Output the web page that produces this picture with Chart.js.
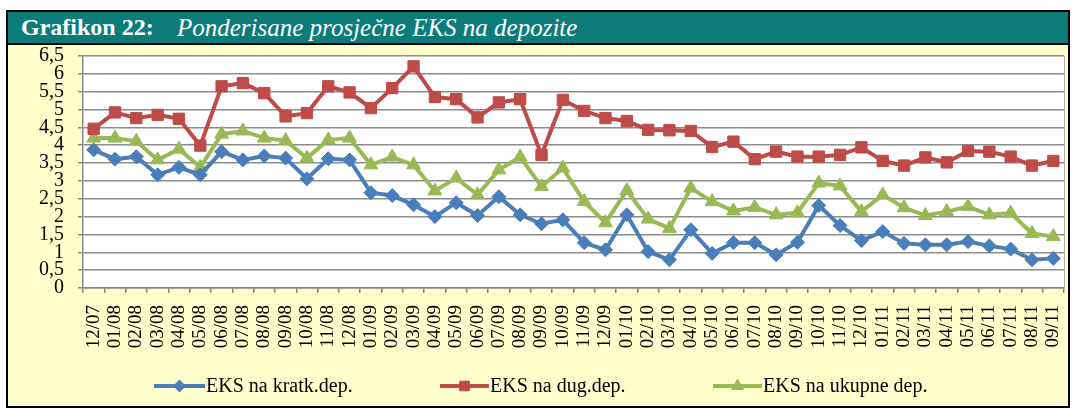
<!DOCTYPE html>
<html>
<head>
<meta charset="utf-8">
<script src="https://cdn.jsdelivr.net/npm/chart.js@4.4.1/dist/chart.umd.min.js"></script>
<style>
  html, body { margin: 0; padding: 0; background: #ffffff; }
  body { width: 1073px; height: 408px; position: relative; overflow: hidden; font-family: "Liberation Serif", "Times New Roman", serif; }
  #frame { position: absolute; left: 6px; top: 10px; width: 1060px; height: 394px; border: 2px solid #000; background: #FFFFCC; }
  #head { position: absolute; left: 0; top: 0; width: 1060px; height: 31px; background: #0C7B79; border-bottom: 2px solid #000; }
  #t1 { position: absolute; left: 13px; top: 2px; color: #fff; font-weight: bold; font-size: 24px; white-space: nowrap; }
  #t2 { position: absolute; left: 169px; top: 2px; color: #fff; font-style: italic; font-size: 25px; white-space: nowrap; }
  #c { position: absolute; left: 0; top: 0; }
</style>
</head>
<body>
<div id="frame"><div id="head"><span id="t1">Grafikon 22:</span><span id="t2">Ponderisane prosječne EKS na depozite</span></div></div>
<canvas id="c" width="1073" height="408"></canvas>
<script>
const categories = ['12/07','01/08','02/08','03/08','04/08','05/08','06/08','07/08','08/08','09/08','10/08','11/08','12/08',
  '01/09','02/09','03/09','04/09','05/09','06/09','07/09','08/09','09/09','10/09','11/09','12/09',
  '01/10','02/10','03/10','04/10','05/10','06/10','07/10','08/10','09/10','10/10','11/10','12/10',
  '01/11','02/11','03/11','04/11','05/11','06/11','07/11','08/11','09/11'];

const ksKratk = [3.87,3.61,3.68,3.17,3.38,3.17,3.82,3.59,3.70,
  3.64,3.06,3.62,3.59,2.67,2.59,2.33,2.00,2.39,2.03,
  2.56,2.05,1.80,1.91,1.27,1.07,2.05,1.02,0.79,
  1.63,0.97,1.27,1.27,0.93,1.28,2.31,1.75,1.33,
  1.58,1.25,1.21,1.21,1.30,1.18,1.09,0.79,0.83];

const ksDug = [4.46,4.92,4.76,4.85,4.74,3.99,5.65,5.74,5.46,
  4.81,4.90,5.65,5.48,5.04,5.60,6.21,5.35,5.29,4.78,
  5.20,5.29,3.73,5.27,4.96,4.76,4.68,4.43,4.42,
  4.40,3.95,4.10,3.61,3.82,3.68,3.68,3.73,3.94,
  3.56,3.43,3.66,3.52,3.84,3.82,3.68,3.43,3.56];

const ksUkupne = [4.20,4.20,4.11,3.59,3.89,3.38,4.31,4.40,4.20,
  4.13,3.64,4.15,4.20,3.45,3.67,3.45,2.72,3.08,2.61,
  3.31,3.67,2.84,3.36,2.42,1.83,2.73,1.93,1.67,
  2.80,2.42,2.16,2.26,2.05,2.11,2.94,2.86,2.14,
  2.61,2.25,2.03,2.14,2.28,2.05,2.10,1.53,1.44];

const seriesNames = ['EKS na kratk.dep.', 'EKS na dug.dep.', 'EKS na ukupne dep.'];
const yTickLabels = ['0','0,5','1','1,5','2','2,5','3','3,5','4','4,5','5','5,5','6','6,5'];

const FONT = '"Liberation Serif", "Times New Roman", serif';

const plotBg = {
  id: 'plotBg',
  beforeDraw(chart) {
    const {ctx, chartArea: a} = chart;
    ctx.save();
    ctx.fillStyle = '#ffffff';
    ctx.fillRect(a.left, a.top, a.right - a.left, a.bottom - a.top);
    ctx.strokeStyle = '#B0B0B0';
    ctx.lineWidth = 1;
    ctx.beginPath(); ctx.moveTo(a.right + 0.5, a.top); ctx.lineTo(a.right + 0.5, a.bottom); ctx.stroke();
    ctx.restore();
  }
};

const legendPos = [{x1: 154, x2: 205}, {x1: 440, x2: 489}, {x1: 713, x2: 762}];
const customLegend = {
  id: 'customLegend',
  afterDraw(chart) {
    const ctx = chart.ctx;
    const y = 386;
    ctx.save();
    chart.data.datasets.forEach((ds, i) => {
      const p = legendPos[i];
      ctx.strokeStyle = ds.borderColor;
      ctx.lineWidth = 4;
      ctx.beginPath(); ctx.moveTo(p.x1, y); ctx.lineTo(p.x2, y); ctx.stroke();
      ctx.fillStyle = ds.pointBackgroundColor;
      ctx.strokeStyle = ds.pointBorderColor;
      ctx.lineWidth = 1;
      Chart.helpers.drawPoint(ctx, {pointStyle: ds.pointStyle, radius: ds.pointRadius * 0.85, borderWidth: 1, rotation: 0}, (p.x1 + p.x2) / 2, y);
      ctx.fillStyle = '#000';
      ctx.font = '20px ' + FONT;
      ctx.textBaseline = 'middle';
      ctx.textAlign = 'left';
      ctx.fillText(ds.label, p.x2 + 1, y + 1);
    });
    ctx.restore();
  }
};

function mkDs(label, data, color, style, radius) {
  return {
    label, data,
    borderColor: color, backgroundColor: color,
    pointBackgroundColor: color, pointBorderColor: color,
    borderWidth: 4, pointStyle: style, pointRadius: radius, pointBorderWidth: 1,
    tension: 0, fill: false
  };
}

new Chart(document.getElementById('c'), {
  type: 'line',
  data: {
    labels: categories,
    datasets: [
      mkDs(seriesNames[0], ksKratk, '#4A7EBB', 'rectRot', 7),
      mkDs(seriesNames[1], ksDug, '#BE4B48', 'rect', 8),
      mkDs(seriesNames[2], ksUkupne, '#98B954', 'triangle', 8)
    ]
  },
  options: {
    responsive: false,
    animation: false,
    layout: { padding: { left: 30, right: 8, top: 56, bottom: 50 } },
    plugins: { legend: { display: false }, title: { display: false }, tooltip: { enabled: false } },
    scales: {
      x: {
        type: 'category',
        offset: true,
        grid: { offset: true, drawOnChartArea: false, drawTicks: true, tickLength: 5, color: '#888', lineWidth: 1.5 },
        border: { display: true, color: '#888', width: 1.5 },
        ticks: { autoSkip: false, minRotation: 90, maxRotation: 90, padding: 12, color: '#000', font: { family: FONT, size: 19, lineHeight: 1 } },
        afterFit(s) { s.height = 70; s.paddingLeft = 0; s.paddingRight = 0; }
      },
      y: {
        min: 0, max: 6.5,
        grid: { color: '#8C8C8C', lineWidth: 1.5, tickLength: 5, drawTicks: true },
        border: { display: true, color: '#888', width: 1.5 },
        ticks: {
          stepSize: 0.5, autoSkip: false, padding: 14, color: '#000',
          font: { family: FONT, size: 20, lineHeight: 1 },
          callback: (v, i) => yTickLabels[i]
        },
        afterFit(s) { s.width = 53; s.paddingTop = 0; s.paddingBottom = 0; }
      }
    }
  },
  plugins: [plotBg, customLegend]
});
</script>
</body>
</html>
